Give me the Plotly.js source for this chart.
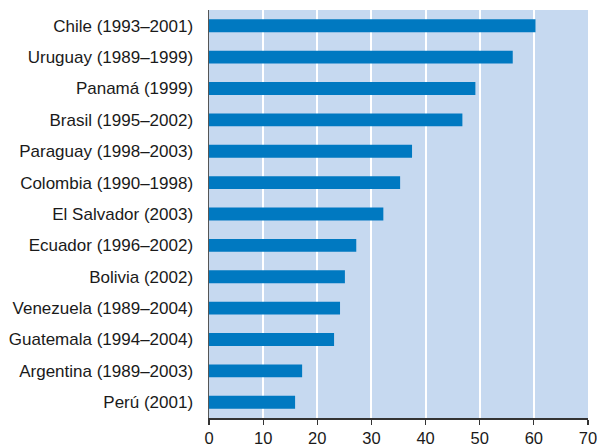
<!DOCTYPE html>
<html><head><meta charset="utf-8">
<script src="https://cdn.plot.ly/plotly-3.0.1.min.js"></script>
<style>html,body{margin:0;padding:0;background:#fff}</style>
</head><body>
<div id="chart" style="width:597px;height:447px"></div>
<script>
const categories = ["Chile (1993–2001)","Uruguay (1989–1999)","Panamá (1999)","Brasil (1995–2002)","Paraguay (1998–2003)","Colombia (1990–1998)","El Salvador (2003)","Ecuador (1996–2002)","Bolivia (2002)","Venezuela (1989–2004)","Guatemala (1994–2004)","Argentina (1989–2003)","Perú (2001)"];
const values = [60.3, 56.1, 49.2, 46.8, 37.5, 35.3, 32.2, 27.2, 25.1, 24.2, 23.1, 17.2, 15.9];
const tickVals = [0,10,20,30,40,50,60,70];

Plotly.newPlot('chart', [{
  type:'bar', orientation:'h',
  x: values.slice().reverse(), y: categories.slice().reverse(),
  marker:{color:'#0079c1'}, width:0.41, hoverinfo:'none'
}], {
  width:597, height:447,
  margin:{l:209, r:9, t:10, b:29, pad:0},
  paper_bgcolor:'#ffffff', plot_bgcolor:'#c6d9f0',
  font:{family:'Liberation Sans, Arial, sans-serif', size:17, color:'#1a1a1a'},
  xaxis:{range:[0,70], tickvals:tickVals, ticktext:tickVals.map(String),
    tickfont:{size:16.5},
    showgrid:true, gridcolor:'#ffffff', gridwidth:2, zeroline:false,
    showline:true, linecolor:'#333', linewidth:1.5,
    ticks:'outside', ticklen:5, tickcolor:'#333', tickwidth:1.2,
    ticklabelstandoff:0, ticklabeloverflow:'allow', fixedrange:true},
  yaxis:{type:'category', showgrid:false, zeroline:false,
    showline:true, linecolor:'#555', linewidth:1.5, ticks:'', ticklen:0,
    ticklabelstandoff:11, fixedrange:true, range:[-0.5,12.5]},
  bargap:0.59, showlegend:false
}, {displayModeBar:false, staticPlot:true});
</script>
</body></html>
